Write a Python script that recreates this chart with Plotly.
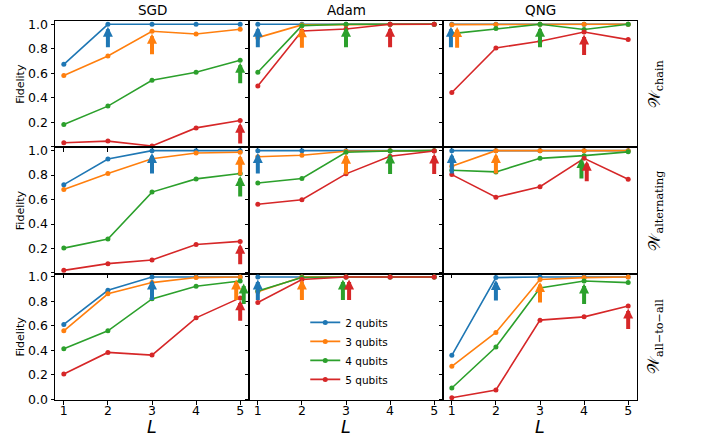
import plotly.graph_objects as go

L = [1, 2, 3, 4, 5]
optimizers = ["SGD", "Adam", "QNG"]
topology_labels = ["𝒲<sub>chain</sub>", "𝒲<sub>alternating</sub>", "𝒲<sub>all−to−all</sub>"]
series_names = ["2 qubits", "3 qubits", "4 qubits", "5 qubits"]
colors = ["#1f77b4", "#ff7f0e", "#2ca02c", "#d62728"]

# fidelity per panel: [2q, 3q, 4q, 5q]
sgd_chain = [[0.673, 1.0, 1.0, 1.0, 1.0],
             [0.581, 0.741, 0.943, 0.921, 0.959],
             [0.181, 0.331, 0.543, 0.608, 0.706],
             [0.031, 0.045, 0.005, 0.153, 0.214]]
adam_chain = [[1.0, 1.0, 1.0, 1.0, 1.0],
              [0.891, 0.995, 0.997, 1.0, 1.0],
              [0.608, 0.989, 1.0, 1.0, 1.0],
              [0.496, 0.945, 0.962, 1.0, 1.0]]
qng_chain = [[1.0, 1.0, 1.0, 1.0, 1.0],
             [0.997, 0.998, 1.0, 1.0, 1.0],
             [0.924, 0.965, 1.0, 0.957, 1.0],
             [0.442, 0.807, 0.861, 0.937, 0.875]]
sgd_alt = [[0.722, 0.931, 1.0, 1.0, 1.0],
           [0.683, 0.813, 0.934, 0.981, 0.987],
           [0.203, 0.277, 0.661, 0.769, 0.813],
           [0.021, 0.076, 0.106, 0.233, 0.258]]
adam_alt = [[1.0, 1.0, 1.0, 1.0, 1.0],
            [0.950, 0.962, 0.995, 1.0, 1.0],
            [0.735, 0.772, 0.987, 0.997, 1.0],
            [0.561, 0.598, 0.810, 0.954, 0.997]]
qng_alt = [[1.0, 1.0, 1.0, 1.0, 1.0],
           [0.873, 1.0, 1.0, 1.0, 1.0],
           [0.840, 0.826, 0.937, 0.959, 0.990],
           [0.804, 0.619, 0.705, 0.937, 0.766]]
sgd_all = [[0.612, 0.891, 1.0, 1.0, 1.0],
           [0.560, 0.862, 0.954, 0.995, 1.0],
           [0.413, 0.560, 0.821, 0.924, 0.967],
           [0.206, 0.383, 0.361, 0.666, 0.829]]
adam_all = [[1.0, 1.0, 1.0, 1.0, 1.0],
            [0.880, 1.0, 1.0, 1.0, 1.0],
            [0.886, 0.995, 1.0, 1.0, 1.0],
            [0.791, 0.979, 1.0, 1.0, 1.0]]
qng_all = [[0.359, 0.995, 1.0, 1.0, 1.0],
           [0.269, 0.546, 0.979, 0.995, 1.0],
           [0.092, 0.427, 0.910, 0.967, 0.954],
           [0.013, 0.076, 0.647, 0.674, 0.763]]

# arrow positions (L) per panel, per series
arr_sgd_chain = [2, 3, 5, 5]
arr_adam_chain = [1, 2, 3, 4]
arr_qng_chain = [0.98, 1.12, 3, 4]
arr_sgd_alt = [3, 5, 5, 5]
arr_adam_alt = [1, 3, 4, 5]
arr_qng_alt = [1, 2, 3.94, 4.06]
arr_sgd_all = [3, 4.91, 5.08, 5]
arr_adam_all = [1, 2, 2.93, 3.07]
arr_qng_all = [2, 3, 4, 5]

panels = [[sgd_chain, adam_chain, qng_chain],
          [sgd_alt, adam_alt, qng_alt],
          [sgd_all, adam_all, qng_all]]
arrows = [[arr_sgd_chain, arr_adam_chain, arr_qng_chain],
          [arr_sgd_alt, arr_adam_alt, arr_qng_alt],
          [arr_sgd_all, arr_adam_all, arr_qng_all]]

FONT = "DejaVu Sans"
fig = go.Figure()
annotations = []
layout = {}
for r in range(3):
    for c in range(3):
        idx = r * 3 + c + 1
        xa = f"x{idx}"
        ya = f"y{idx}"
        for s in range(4):
            fig.add_trace(go.Scatter(
                x=L, y=panels[r][c][s], mode="lines+markers",
                name=series_names[s],
                line=dict(color=colors[s], width=1.6),
                marker=dict(color=colors[s], size=5),
                xaxis=xa, yaxis=ya,
                showlegend=(idx == 1), legendgroup=series_names[s]))
        for s in range(4):
            xpos = arrows[r][c][s]
            f = panels[r][c][s][int(round(xpos)) - 1]
            annotations.append(dict(
                x=xpos, y=f - 0.02, ax=xpos, ay=f - 0.2,
                xref=xa, yref=ya, axref=xa, ayref=ya,
                showarrow=True, arrowhead=2, arrowsize=0.5, arrowwidth=4,
                arrowcolor=colors[s], text=""))
        xkey = "xaxis" if idx == 1 else f"xaxis{idx}"
        ykey = "yaxis" if idx == 1 else f"yaxis{idx}"
        common = dict(showline=True, linecolor="black", linewidth=1, mirror=True,
                      ticks="outside", ticklen=3.5, tickwidth=0.8, tickcolor="black",
                      showgrid=False, zeroline=False,
                      tickfont=dict(family=FONT, size=12.5, color="black"))
        layout[xkey] = dict(domain=[c / 3, (c + 1) / 3], range=[0.8, 5.2],
                            tickvals=L, ticktext=[str(v) for v in L],
                            showticklabels=(r == 2), anchor=ya,
                            ticklabelstandoff=-5, **common)
        if r == 2:
            yt = ["0.0", "0.2", "0.4", "0.6", "0.8", "1.0"]
        else:
            yt = ["", "0.2", "0.4", "0.6", "0.8", "1.0"]
        layout[ykey] = dict(domain=[1 - (r + 1) / 3, 1 - r / 3], range=[-0.006, 1.027],
                            tickvals=[0, 0.2, 0.4, 0.6, 0.8, 1.0], ticktext=yt,
                            showticklabels=(c == 0), anchor=xa, **common)

# titles
for c in range(3):
    annotations.append(dict(text=optimizers[c], x=(c + 0.5) / 3, y=1.029, xref="paper", yref="paper",
                            showarrow=False, font=dict(family=FONT, size=13.5, color="black"),
                            xanchor="center", yanchor="middle"))
    annotations.append(dict(text="<i>L</i>", x=(c + 0.5) / 3, y=-39 / 379, xref="paper", yref="paper",
                            showarrow=False, font=dict(family=FONT, size=17.5, color="black"),
                            xanchor="center", yanchor="bottom"))
for r in range(3):
    yc = 1 - (r + 0.5) / 3
    annotations.append(dict(text="Fidelity", x=-0.059, y=yc, xref="paper", yref="paper",
                            showarrow=False, textangle=-90,
                            font=dict(family=FONT, size=11, color="black"),
                            xanchor="center", yanchor="middle"))
    annotations.append(dict(text=topology_labels[r], x=1.031, y=yc, xref="paper", yref="paper",
                            showarrow=False, textangle=-90,
                            font=dict(family="DejaVu Serif", size=16, color="black"),
                            xanchor="center", yanchor="middle"))

fig.update_layout(
    width=705, height=439,
    margin=dict(l=55, r=68, t=21, b=39),
    paper_bgcolor="white", plot_bgcolor="white",
    annotations=annotations,
    legend=dict(x=0.43, y=0.243, xanchor="left", yanchor="top",
                font=dict(family=FONT, size=10.5, color="black"),
                bgcolor="rgba(0,0,0,0)", itemwidth=30, tracegroupgap=0),
    **layout)

fig.write_html("out.html")
